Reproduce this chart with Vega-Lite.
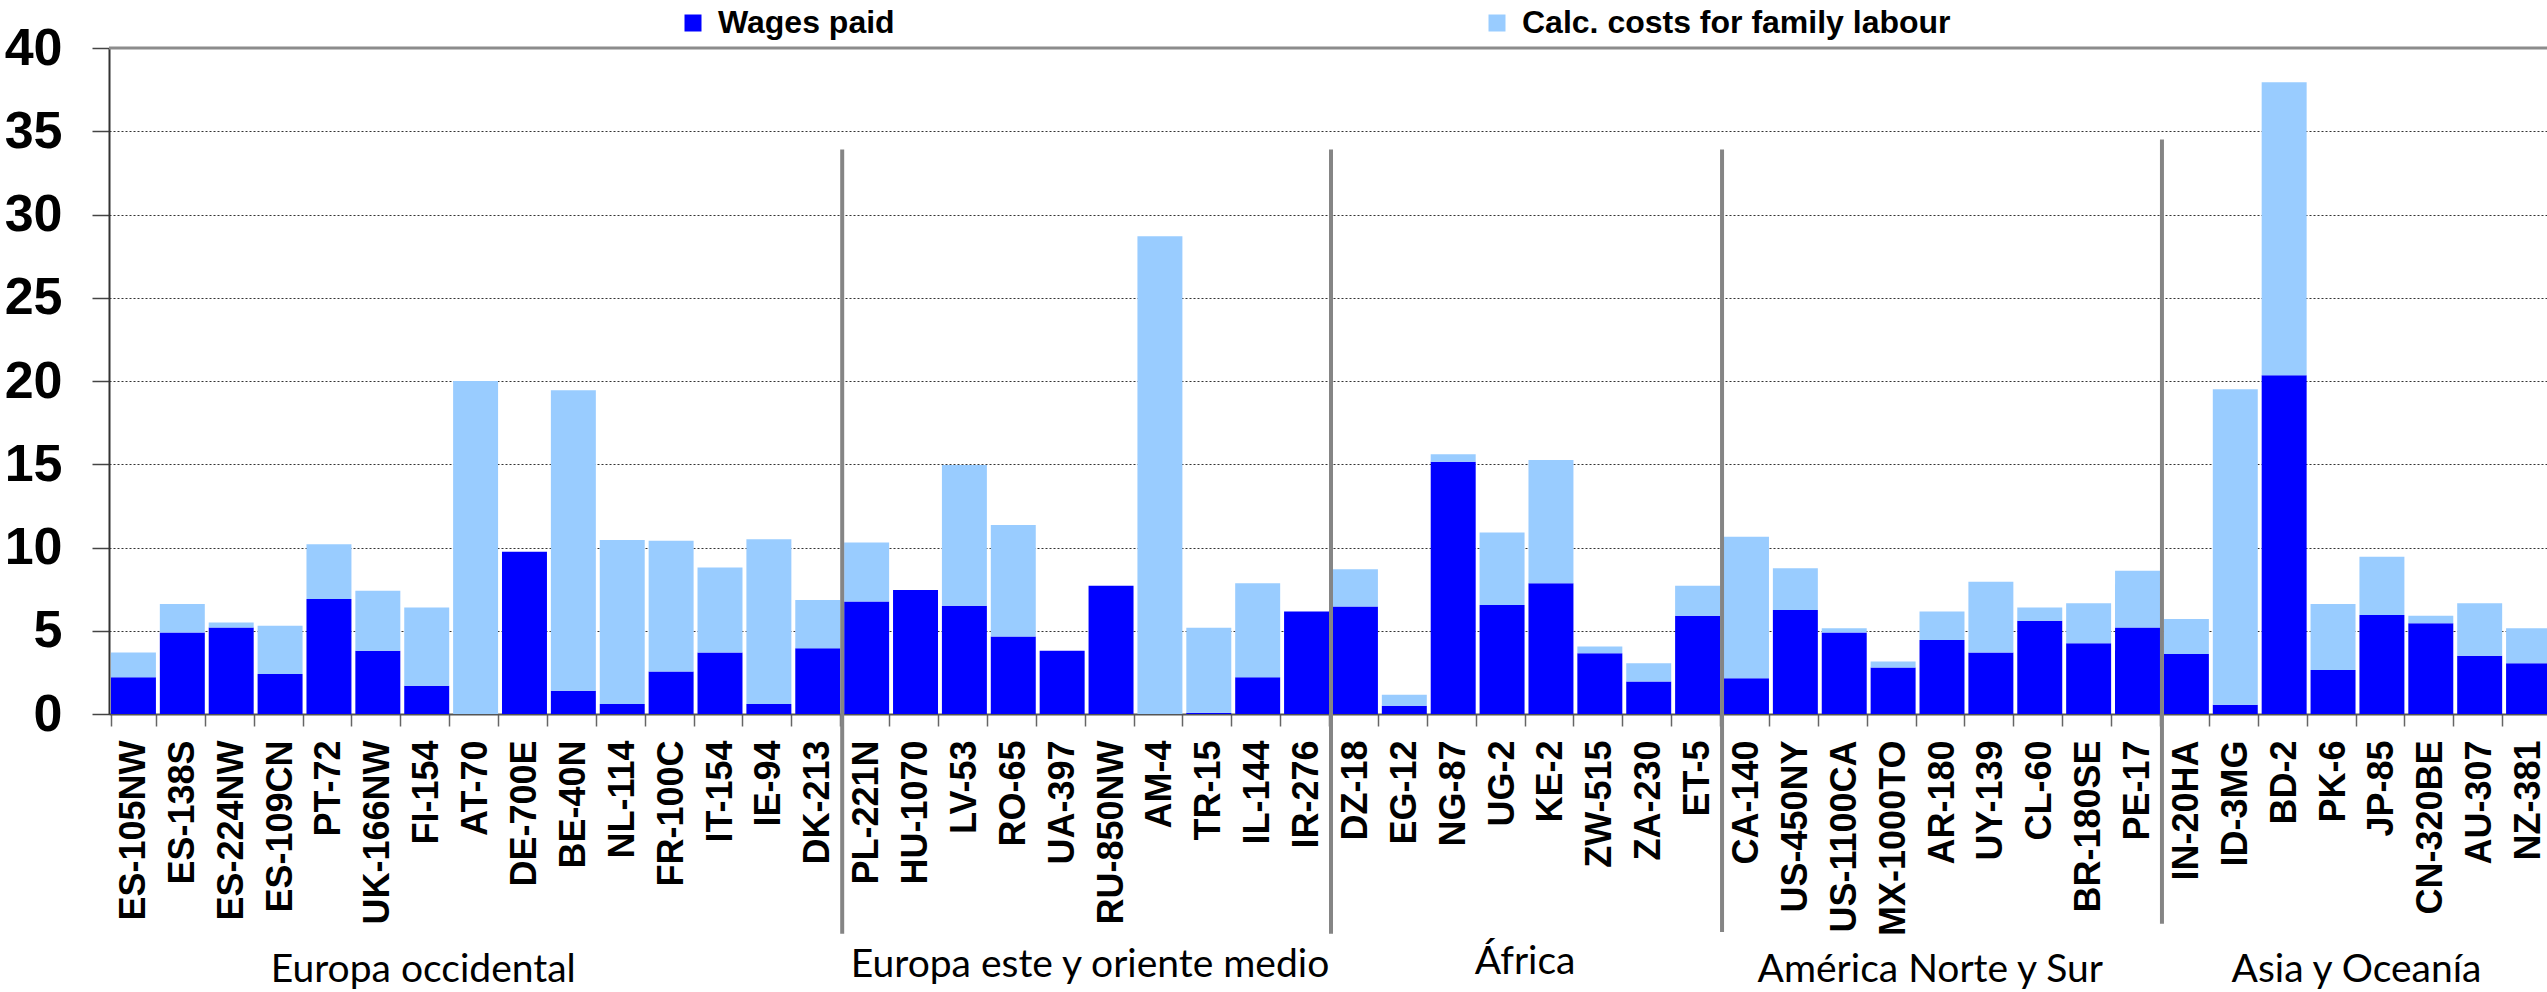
{
  "$schema": "https://vega.github.io/schema/vega-lite/v6.json",
  "width": 2444,
  "height": 666,
  "autosize": {"type": "none"},
  "padding": {"left": 109, "top": 48, "right": 0, "bottom": 278},
  "background": "white",
  "config": {"view": {"stroke": null}},
  "datasets": {
    "costs": [
      {"site": "ES-105NW", "wages": 2.2, "family": 1.5},
      {"site": "ES-138S", "wages": 4.9, "family": 1.7},
      {"site": "ES-224NW", "wages": 5.2, "family": 0.3},
      {"site": "ES-109CN", "wages": 2.4, "family": 2.9},
      {"site": "PT-72", "wages": 6.9, "family": 3.3},
      {"site": "UK-166NW", "wages": 3.8, "family": 3.6},
      {"site": "FI-154", "wages": 1.7, "family": 4.7},
      {"site": "AT-70", "wages": 0, "family": 20.0},
      {"site": "DE-700E", "wages": 9.75, "family": 0},
      {"site": "BE-40N", "wages": 1.4, "family": 18.05},
      {"site": "NL-114", "wages": 0.6, "family": 9.85},
      {"site": "FR-100C", "wages": 2.55, "family": 7.85},
      {"site": "IT-154", "wages": 3.7, "family": 5.1},
      {"site": "IE-94", "wages": 0.6, "family": 9.9},
      {"site": "DK-213", "wages": 3.95, "family": 2.9},
      {"site": "PL-221N", "wages": 6.75, "family": 3.55},
      {"site": "HU-1070", "wages": 7.45, "family": 0},
      {"site": "LV-53", "wages": 6.5, "family": 8.45},
      {"site": "RO-65", "wages": 4.65, "family": 6.7},
      {"site": "UA-397", "wages": 3.8, "family": 0},
      {"site": "RU-850NW", "wages": 7.7, "family": 0},
      {"site": "AM-4", "wages": 0, "family": 28.7},
      {"site": "TR-15", "wages": 0.08, "family": 5.1},
      {"site": "IL-144", "wages": 2.2, "family": 5.65},
      {"site": "IR-276", "wages": 6.15, "family": 0},
      {"site": "DZ-18", "wages": 6.45, "family": 2.25},
      {"site": "EG-12", "wages": 0.5, "family": 0.65},
      {"site": "NG-87", "wages": 15.15, "family": 0.45},
      {"site": "UG-2", "wages": 6.55, "family": 4.35},
      {"site": "KE-2", "wages": 7.85, "family": 7.4},
      {"site": "ZW-515", "wages": 3.65, "family": 0.4},
      {"site": "ZA-230", "wages": 1.95, "family": 1.1},
      {"site": "ET-5", "wages": 5.9, "family": 1.8},
      {"site": "CA-140", "wages": 2.15, "family": 8.5},
      {"site": "US-450NY", "wages": 6.25, "family": 2.5},
      {"site": "US-1100CA", "wages": 4.9, "family": 0.25},
      {"site": "MX-1000TO", "wages": 2.8, "family": 0.35},
      {"site": "AR-180", "wages": 4.45, "family": 1.7},
      {"site": "UY-139", "wages": 3.7, "family": 4.25},
      {"site": "CL-60", "wages": 5.6, "family": 0.8},
      {"site": "BR-180SE", "wages": 4.25, "family": 2.4},
      {"site": "PE-17", "wages": 5.2, "family": 3.4},
      {"site": "IN-20HA", "wages": 3.6, "family": 2.1},
      {"site": "ID-3MG", "wages": 0.55, "family": 18.95},
      {"site": "BD-2", "wages": 20.35, "family": 17.6},
      {"site": "PK-6", "wages": 2.65, "family": 3.95},
      {"site": "JP-85", "wages": 5.95, "family": 3.5},
      {"site": "CN-320BE", "wages": 5.45, "family": 0.45},
      {"site": "AU-307", "wages": 3.5, "family": 3.15},
      {"site": "NZ-381", "wages": 3.05, "family": 2.1}
    ],
    "separators": [
      {"pos": 15, "top": 33.9, "bottom": -13.2},
      {"pos": 25, "top": 33.9, "bottom": -13.2},
      {"pos": 33, "top": 33.9, "bottom": -13.1},
      {"pos": 42, "top": 34.5, "bottom": -12.6}
    ],
    "groups": [
      {"region": "Europa occidental", "pos": 6.43, "ly": -16.1},
      {"region": "Europa este y oriente medio", "pos": 20.07, "ly": -15.8},
      {"region": "África", "pos": 28.97, "ly": -15.6},
      {"region": "América Norte y Sur", "pos": 37.26, "ly": -16.1},
      {"region": "Asia y Oceanía", "pos": 45.98, "ly": -16.1}
    ],
    "frame": [{"v": 40}]
  },
  "layer": [
    {
      "data": {"name": "costs"},
      "transform": [{"fold": ["wages", "family"], "as": ["series", "value"]}],
      "mark": {"type": "bar"},
      "encoding": {
        "x": {
          "field": "site", "type": "nominal", "sort": null,
          "scale": {"paddingInner": 0.08, "paddingOuter": 0.04},
          "axis": {
            "title": null, "labelAngle": -90, "labelAlign": "right", "labelBaseline": "middle",
            "labelFont": "Liberation Sans", "labelFontWeight": "bold", "labelFontSize": 36,
            "labelColor": "#000000", "labelPadding": 14, "labelLimit": 400, "labelOverlap": false,
            "tickBand": "extent", "tickSize": 12, "tickColor": "#666666", "tickWidth": 1.5,
            "domainColor": "#555555", "domainWidth": 2, "grid": false
          }
        },
        "y": {
          "field": "value", "type": "quantitative", "stack": "zero",
          "scale": {"domain": [0, 40], "nice": false},
          "axis": {
            "title": null, "values": [0, 5, 10, 15, 20, 25, 30, 35, 40],
            "labelFont": "Liberation Sans", "labelFontWeight": "bold", "labelFontSize": 52,
            "labelColor": "#000000", "labelPadding": 30, "tickSize": 17, "tickColor": "#444444",
            "tickWidth": 1.5, "domainColor": "#333333", "domainWidth": 2,
            "grid": true, "gridColor": "#000000", "gridWidth": 1, "gridDash": [2, 2], "gridOpacity": 0.8
          }
        },
        "color": {
          "field": "series", "type": "nominal",
          "scale": {"domain": ["wages", "family"], "range": ["#0000FF", "#99CCFF"]},
          "legend": {
            "title": null, "orient": "none", "direction": "horizontal",
            "legendX": 568, "legendY": -41, "padding": 0, "offset": 0,
            "symbolType": "square", "symbolSize": 289, "symbolStrokeWidth": 0,
            "labelExpr": "datum.value == 'wages' ? 'Wages paid' : 'Calc. costs for family labour'",
            "labelFont": "Liberation Sans", "labelFontWeight": "bold", "labelFontSize": 32,
            "labelColor": "#000000", "labelOffset": 9, "labelLimit": 600, "columnPadding": 586
          }
        },
        "order": {"field": "series", "sort": "descending"}
      }
    },
    {
      "data": {"name": "frame"},
      "mark": {"type": "rule", "color": "#8c8c8c", "strokeWidth": 3},
      "encoding": {"y": {"field": "v", "type": "quantitative", "scale": {"domain": [0, 40], "nice": false}}}
    },
    {
      "data": {"name": "separators"},
      "mark": {"type": "rule", "color": "#858585", "strokeWidth": 4},
      "encoding": {
        "x": {"field": "pos", "type": "quantitative", "scale": {"domain": [0, 50], "nice": false, "zero": false}, "axis": null},
        "y": {"field": "top", "type": "quantitative", "scale": {"domain": [0, 40], "nice": false}},
        "y2": {"field": "bottom"}
      }
    },
    {
      "data": {"name": "groups"},
      "mark": {"type": "text", "font": "Lato", "fontSize": 39, "color": "#000000", "align": "center", "baseline": "alphabetic"},
      "encoding": {
        "x": {"field": "pos", "type": "quantitative", "scale": {"domain": [0, 50], "nice": false, "zero": false}, "axis": null},
        "y": {"field": "ly", "type": "quantitative", "scale": {"domain": [0, 40], "nice": false}},
        "text": {"field": "region"}
      }
    }
  ],
  "resolve": {"scale": {"x": "independent"}}
}
